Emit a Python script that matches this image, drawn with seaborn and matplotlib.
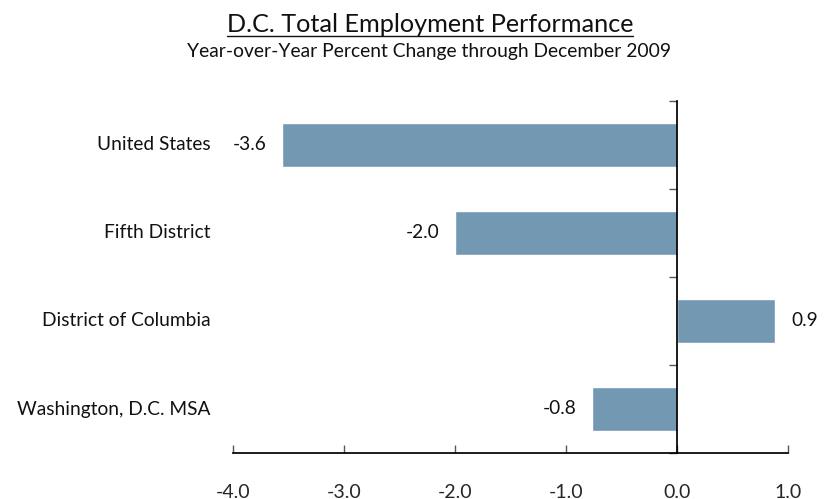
"""D.C. total employment performance, year-over-year % change through Dec 2009."""

import matplotlib

matplotlib.use("Agg")
import matplotlib.pyplot as plt
import matplotlib.transforms as mtransforms
import pandas as pd
import seaborn as sns
from matplotlib.lines import Line2D

REGIONS = ["United States", "Fifth District", "District of Columbia", "Washington, D.C. MSA"]
PCT_CHANGE = [-3.56, -2.00, 0.88, -0.77]
X_TICKS = [-4.0, -3.0, -2.0, -1.0, 0.0, 1.0]

TITLE = "D.C. Total Employment Performance"
SUBTITLE = "Year-over-Year Percent Change through December 2009"
BAR_COLOR = "#7399b2"


def main() -> None:
    sns.set_theme(style="white")
    plt.rcParams["font.family"] = ["Lato", "DejaVu Sans"]

    df = pd.DataFrame({"region": REGIONS, "pct": PCT_CHANGE})

    fig = plt.figure(figsize=(8.35, 4.99), dpi=100)
    ax = fig.add_axes([233 / 835, 1 - 453 / 499, 555 / 835, 352 / 499])

    sns.barplot(data=df, x="pct", y="region", orient="h", color=BAR_COLOR,
                saturation=1, width=0.49, ax=ax)

    ax.set_xlim(X_TICKS[0], X_TICKS[-1])
    ax.set_ylim(len(REGIONS) - 0.5, -0.5)
    ax.set_xticks(X_TICKS)
    ax.set_xticklabels([f"{t:.1f}" for t in X_TICKS], fontsize=14)
    ax.set_xlabel("")
    ax.set_ylabel("")

    # zero line acts as the category axis, ticks at category boundaries
    for side in ("top", "right"):
        ax.spines[side].set_visible(False)
    ax.spines["left"].set_position(("data", 0))
    ax.spines["left"].set_color("black")
    ax.spines["bottom"].set_color("black")
    ax.set_yticks([i - 0.5 for i in range(len(REGIONS) + 1)])
    ax.set_yticklabels([])
    ax.tick_params(axis="y", direction="out", length=6, width=1, color="#555555", left=True)
    ax.tick_params(axis="x", direction="in", length=6, width=1, color="#555555",
                   bottom=True, pad=22)

    label_tf = mtransforms.blended_transform_factory(ax.transAxes, ax.transData)
    for i, name in enumerate(REGIONS):
        ax.text(-0.041, i, name, transform=label_tf, ha="right", va="center",
                fontsize=13.8, color="#111111")

    for i, val in enumerate(PCT_CHANGE):
        ax.annotate(f"{val:.1f}", (val, i), xytext=(-11 if val < 0 else 12, 0),
                    textcoords="offset points", ha="right" if val < 0 else "left",
                    va="center", fontsize=13.8, color="#111111")

    title = fig.text(0.515, 1 - 32 / 499, TITLE, ha="center", va="baseline",
                     fontsize=18.2, color="#111111")
    fig.text(0.514, 1 - 57 / 499, SUBTITLE, ha="center", va="baseline",
             fontsize=13.9, color="#111111")

    fig.canvas.draw()
    bb = title.get_window_extent().transformed(fig.transFigure.inverted())
    uy = 1 - 36 / 499
    fig.add_artist(Line2D([bb.x0, bb.x1], [uy, uy], color="#111111", lw=1,
                          transform=fig.transFigure))

    fig.savefig("out.png", dpi=100)
    plt.close(fig)


if __name__ == "__main__":
    main()
